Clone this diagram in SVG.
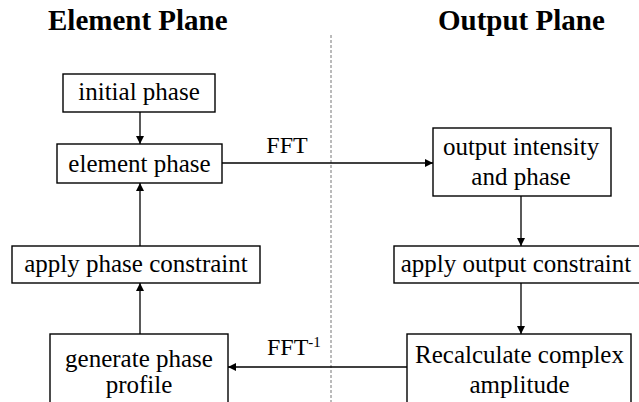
<svg xmlns="http://www.w3.org/2000/svg" width="639" height="402" viewBox="0 0 639 402">
  <defs>
    <marker id="arrow" viewBox="0 0 10 10" refX="10" refY="5" markerWidth="9" markerHeight="8" markerUnits="userSpaceOnUse" orient="auto">
      <path d="M0,0 L10,5 L0,10 Z" fill="#000000"/>
    </marker>
  </defs>
  <rect width="639" height="402" fill="#ffffff"/>

  <!-- plane headings and divider -->
  <text x="48" y="30" font-family="Liberation Serif" font-size="29" font-weight="bold">Element Plane</text>
  <text x="438" y="30" font-family="Liberation Serif" font-size="29" font-weight="bold">Output Plane</text>
  <line x1="331" y1="35" x2="331" y2="402" stroke="#777777" stroke-width="1" stroke-dasharray="3,2"/>

  <!-- connectors -->
  <g id="connectors" fill="none" stroke="#000000" stroke-width="1.3">
    <line x1="140" y1="112" x2="140" y2="144" marker-end="url(#arrow)"/>
    <line x1="140" y1="246" x2="140" y2="183" marker-end="url(#arrow)"/>
    <line x1="140" y1="334" x2="140" y2="283" marker-end="url(#arrow)"/>
    <line x1="222" y1="163" x2="433" y2="163" marker-end="url(#arrow)"/>
    <line x1="521" y1="196" x2="521" y2="246" marker-end="url(#arrow)"/>
    <line x1="521" y1="283" x2="521" y2="334" marker-end="url(#arrow)"/>
    <line x1="407" y1="367" x2="228" y2="367" marker-end="url(#arrow)"/>
  </g>
  <g id="connector-labels" fill="#000000">
    <text x="287" y="153" font-family="Liberation Serif" font-size="24" text-anchor="middle">FFT</text>
    <text x="267" y="355" font-family="Liberation Serif" font-size="24">FFT<tspan dy="-8" font-size="15">-1</tspan></text>
  </g>

  <g id="initial-phase">
    <rect x="63" y="74" width="152" height="38" fill="#ffffff" stroke="#000000" stroke-width="1.4"/>
    <text x="139" y="100" font-family="Liberation Serif" font-size="25" text-anchor="middle">initial phase</text>
  </g>
  <g id="element-phase">
    <rect x="57" y="144" width="165" height="39" fill="#ffffff" stroke="#000000" stroke-width="1.4"/>
    <text x="139.5" y="172" font-family="Liberation Serif" font-size="25" text-anchor="middle">element phase</text>
  </g>
  <g id="apply-phase-constraint">
    <rect x="12" y="246" width="248" height="37" fill="#ffffff" stroke="#000000" stroke-width="1.4"/>
    <text x="136" y="272" font-family="Liberation Serif" font-size="25" text-anchor="middle">apply phase constraint</text>
  </g>
  <g id="generate-phase-profile">
    <rect x="50" y="334" width="178" height="72" fill="#ffffff" stroke="#000000" stroke-width="1.4"/>
    <text x="139" y="367" font-family="Liberation Serif" font-size="25" text-anchor="middle">generate phase</text>
    <text x="139" y="393" font-family="Liberation Serif" font-size="25" text-anchor="middle">profile</text>
  </g>
  <g id="output-intensity">
    <rect x="433" y="128" width="178" height="68" fill="#ffffff" stroke="#000000" stroke-width="1.4"/>
    <text x="521" y="155" font-family="Liberation Serif" font-size="25" text-anchor="middle">output intensity</text>
    <text x="521" y="185" font-family="Liberation Serif" font-size="25" text-anchor="middle">and phase</text>
  </g>
  <g id="apply-output-constraint">
    <rect x="394" y="246" width="248" height="37" fill="#ffffff" stroke="#000000" stroke-width="1.4"/>
    <text x="516" y="272" font-family="Liberation Serif" font-size="25" text-anchor="middle">apply output constraint</text>
  </g>
  <g id="recalculate-amplitude">
    <rect x="407" y="334" width="224" height="72" fill="#ffffff" stroke="#000000" stroke-width="1.4"/>
    <text x="519.5" y="363" font-family="Liberation Serif" font-size="25" text-anchor="middle">Recalculate complex</text>
    <text x="519.5" y="393" font-family="Liberation Serif" font-size="25" text-anchor="middle">amplitude</text>
  </g>
</svg>
